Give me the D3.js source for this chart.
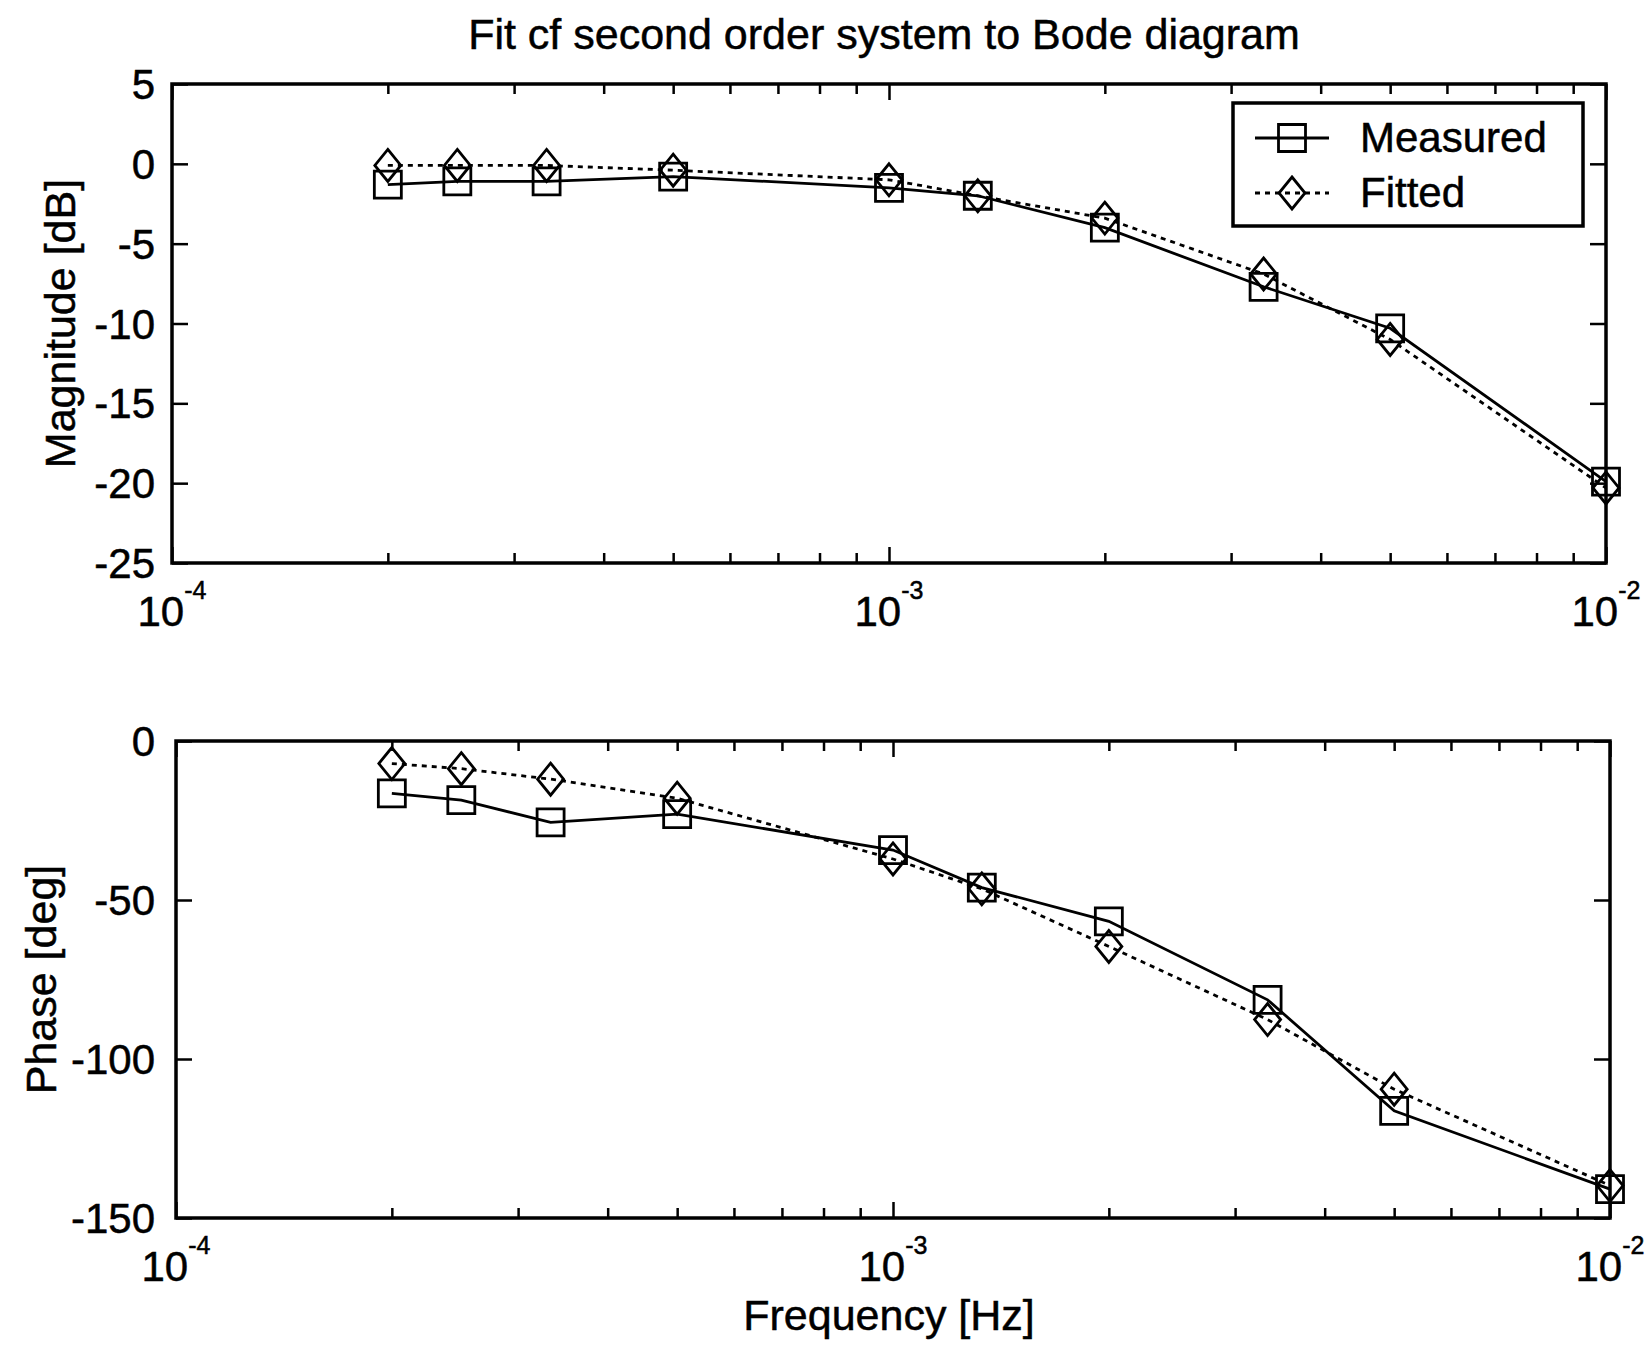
<!DOCTYPE html>
<html lang="en">
  <head>
    <meta charset="UTF-8" />
    <title>Fit of second order system to Bode diagram</title>
    <script src="https://d3js.org/d3.v7.min.js"></script>
    <style>
      body { margin: 0; background: #fff; }
      svg { display: block; background: #fff; }
      text { font-family: "Liberation Sans", Arial, sans-serif; fill: #000; stroke: #000; stroke-width: 0.5; }
      .frame { fill: none; stroke: #000; stroke-width: 3.5; }
      .tick line { stroke: #000; stroke-width: 2.5; }
      .measured { fill: none; stroke: #000; stroke-width: 2.8; }
      .fitted { fill: none; stroke: #000; stroke-width: 2.8; stroke-dasharray: 5 5; }
      .marker { fill: none; stroke: #000; stroke-width: 2.8; }
    </style>
  </head>
  <body>
    <svg id="chart" width="1650" height="1358"></svg>
    <script>
      // values
      const freq = [2e-4, 2.5e-4, 3.33e-4, 5e-4, 1e-3, 1.33e-3, 2e-3, 3.33e-3, 5e-3, 1e-2];
      const magMeasured = [-1.3, -1.1, -1.1, -0.8, -1.5, -2.0, -4.0, -7.7, -10.3, -19.9];
      const magFitted = [-0.1, -0.1, -0.1, -0.4, -1.0, -2.0, -3.4, -6.9, -11.0, -20.3];
      const phaseMeasured = [-16.5, -18.6, -25.6, -23.0, -34.3, -46.1, -56.7, -81.4, -116.3, -140.9];
      const phaseFitted = [-7.1, -8.7, -12.0, -18.0, -37.1, -46.5, -64.6, -87.6, -109.5, -139.8];

      const magTicks = [5, 0, -5, -10, -15, -20, -25];
      const phaseTicks = [0, -50, -100, -150];
      const decadeTicks = [1e-4, 1e-3, 1e-2];
      const decadeExponents = ["-4", "-3", "-2"];
      const seriesNames = ["Measured", "Fitted"];

      const svg = d3.select("#chart");

      const panels = [
        { left: 172, right: 1606, top: 84, bottom: 563, domain: [-25, 5], ticks: magTicks,
          measured: magMeasured, fitted: magFitted, label: "Magnitude [dB]", labelX: 75 },
        { left: 176, right: 1610, top: 741, bottom: 1218, domain: [-150, 0], ticks: phaseTicks,
          measured: phaseMeasured, fitted: phaseFitted, label: "Phase [deg]", labelX: 56 },
      ];

      // marker shapes
      const squarePath = (h) => `M${-h},${-h}h${2 * h}v${2 * h}h${-2 * h}Z`;
      const diamondPath = (w, h) => `M0,${-h}L${w},0L0,${h}L${-w},0Z`;

      panels.forEach((p) => {
        const x = d3.scaleLog().domain([1e-4, 1e-2]).range([p.left, p.right]);
        const y = d3.scaleLinear().domain(p.domain).range([p.bottom, p.top]);
        const g = svg.append("g");

        const minor = x.ticks().filter((v) => !decadeTicks.some((d) => Math.abs(d - v) / d < 1e-9));
        const noDomain = (s) => s.select(".domain").remove();

        // x ticks, inward, on bottom and top
        g.append("g").attr("transform", `translate(0,${p.bottom})`)
          .call(d3.axisBottom(x).tickValues(minor).tickSize(-10).tickFormat("")).call(noDomain);
        g.append("g").attr("transform", `translate(0,${p.top})`)
          .call(d3.axisTop(x).tickValues(minor).tickSize(-10).tickFormat("")).call(noDomain);
        g.append("g").attr("transform", `translate(0,${p.bottom})`)
          .call(d3.axisBottom(x).tickValues(decadeTicks).tickSize(-16).tickFormat("")).call(noDomain);
        g.append("g").attr("transform", `translate(0,${p.top})`)
          .call(d3.axisTop(x).tickValues(decadeTicks).tickSize(-16).tickFormat("")).call(noDomain);

        // y ticks, inward, on left and right
        g.append("g").attr("transform", `translate(${p.left},0)`)
          .call(d3.axisLeft(y).tickValues(p.ticks).tickSize(-16).tickFormat("")).call(noDomain);
        g.append("g").attr("transform", `translate(${p.right},0)`)
          .call(d3.axisRight(y).tickValues(p.ticks).tickSize(-16).tickFormat("")).call(noDomain);

        g.append("rect").attr("class", "frame")
          .attr("x", p.left).attr("y", p.top)
          .attr("width", p.right - p.left).attr("height", p.bottom - p.top);

        // tick labels
        g.selectAll(".ylab").data(p.ticks).join("text")
          .attr("x", 155).attr("y", (d) => y(d)).attr("dy", "0.36em")
          .attr("text-anchor", "end").attr("font-size", 42)
          .text((d) => d);

        const xl = g.selectAll(".xlab").data(decadeTicks).join("text")
          .attr("x", (d) => x(d)).attr("y", p.bottom + 63)
          .attr("text-anchor", "middle").attr("font-size", 42);
        xl.append("tspan").text("10");
        xl.append("tspan").attr("dy", -27).attr("font-size", 25)
          .text((d, i) => decadeExponents[i]);

        g.append("text")
          .attr("transform", `translate(${p.labelX},${(p.top + p.bottom) / 2}) rotate(-90)`)
          .attr("text-anchor", "middle").attr("font-size", 43)
          .text(p.label);

        // data
        const line = d3.line().x((d, i) => x(freq[i])).y((d) => y(d));
        g.append("path").attr("class", "fitted").attr("d", line(p.fitted));
        g.append("path").attr("class", "measured").attr("d", line(p.measured));

        g.selectAll(".sq").data(p.measured).join("path")
          .attr("class", "marker")
          .attr("transform", (d, i) => `translate(${x(freq[i])},${y(d)})`)
          .attr("d", squarePath(13.5));
        g.selectAll(".dm").data(p.fitted).join("path")
          .attr("class", "marker")
          .attr("transform", (d, i) => `translate(${x(freq[i])},${y(d)})`)
          .attr("d", diamondPath(13, 16));
      });

      // title and x label
      svg.append("text").attr("x", 884).attr("y", 49)
        .attr("text-anchor", "middle").attr("font-size", 43)
        .text("Fit cf second order system to Bode diagram");
      svg.append("text").attr("x", 889).attr("y", 1330)
        .attr("text-anchor", "middle").attr("font-size", 43)
        .text("Frequency [Hz]");

      // legend
      const lg = svg.append("g");
      lg.append("rect").attr("class", "frame")
        .attr("x", 1233).attr("y", 103).attr("width", 350).attr("height", 123);
      const rows = lg.selectAll(".row").data(seriesNames).join("g")
        .attr("transform", (d, i) => `translate(1292,${138 + i * 55})`);
      rows.append("line")
        .attr("class", (d, i) => (i === 0 ? "measured" : "fitted"))
        .attr("x1", -37).attr("x2", 37);
      rows.append("path").attr("class", "marker")
        .attr("d", (d, i) => (i === 0 ? squarePath(13.5) : diamondPath(13, 16)));
      rows.append("text").attr("x", 68).attr("y", 14).attr("font-size", 42)
        .text((d) => d);
    </script>
  </body>
</html>
